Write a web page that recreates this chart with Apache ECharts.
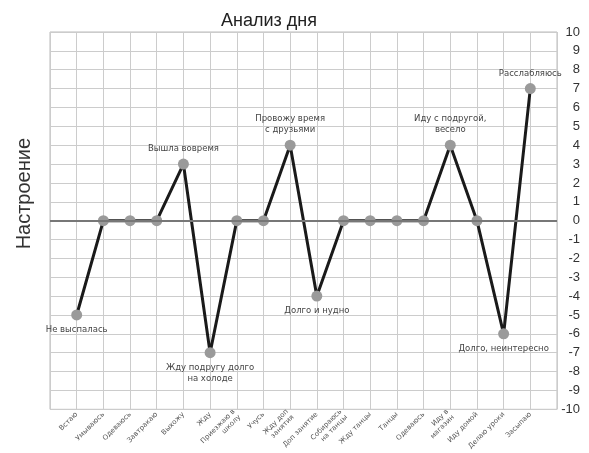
<!DOCTYPE html>
<html>
<head>
<meta charset="utf-8">
<script src="https://cdn.jsdelivr.net/npm/echarts@6/dist/echarts.min.js"></script>
<style>
  html, body { margin: 0; padding: 0; background: #fff; }
  #main { width: 589px; height: 453px; }
</style>
</head>
<body>
<div id="main"></div>
<script>
// категории (первая и последняя пустые - поля по краям)
var categories = ['', 'Встаю', 'Умываюсь', 'Одеваюсь', 'Завтракаю', 'Выхожу', 'Жду',
  'Приезжаю в\nшколу', 'Учусь', 'Жду доп\nзанятия', 'Доп занятие', 'Собираюсь\nна танцы',
  'Жду танцы', 'Танцы', 'Одеваюсь', 'Иду в\nмагазин', 'Иду домой', 'Делаю уроки', 'Засыпаю', ''];
// настроение
var mood = [null, -5, 0, 0, 0, 3, -7, 0, 0, 4, -4, 0, 0, 0, 0, 4, 0, -6, 7, null];
// подписи у точек
var notes = ['', 'Не выспалась', '', '', '', 'Вышла вовремя', 'Жду подругу долго\nна холоде',
  '', '', 'Провожу время\nс друзьями', 'Долго и нудно', '', '', '', '', 'Иду с подругой,\nвесело',
  '', 'Долго, неинтересно', 'Расслабляюсь', ''];

var font = 'Liberation Sans';

var points = mood.map(function (v, i) {
  return {
    value: v,
    label: {
      show: notes[i] !== '',
      formatter: notes[i],
      position: v < 0 ? 'bottom' : 'top'
    }
  };
});

var myChart = echarts.init(document.getElementById('main'));
var option = {
  animation: false,
  title: {
    text: 'Анализ дня',
    left: 216,
    top: 7,
    textStyle: { fontFamily: font, fontSize: 18, fontWeight: 'normal', color: '#222' }
  },
  grid: {
    left: 50,
    right: 32,
    top: 32,
    bottom: 43,
    show: true,
    borderColor: '#bbb',
    borderWidth: 1
  },
  xAxis: {
    type: 'category',
    data: categories,
    boundaryGap: false,
    axisLine: { show: false },
    axisTick: { show: false },
    axisLabel: {
      interval: 0,
      rotate: 45,
      margin: 4,
      fontFamily: 'DejaVu Sans',
      fontSize: 7,
      lineHeight: 8,
      color: '#555'
    },
    splitLine: { show: true, lineStyle: { color: '#cccccc', width: 1 } }
  },
  yAxis: [
    {
      type: 'value',
      position: 'right',
      min: -10,
      max: 10,
      interval: 1,
      axisLine: { show: false },
      axisTick: { show: false },
      axisLabel: {
        align: 'right',
        margin: 23,
        fontFamily: font,
        fontSize: 13,
        color: '#333'
      },
      splitLine: { show: true, lineStyle: { color: '#cccccc', width: 1 } }
    },
    {
      type: 'value',
      position: 'left',
      min: -10,
      max: 10,
      name: 'Настроение',
      nameLocation: 'middle',
      nameGap: 16,
      nameTextStyle: { fontFamily: font, fontSize: 20, color: '#333', padding: [0, 0, 0, 54] },
      axisLine: { show: false },
      axisTick: { show: false },
      axisLabel: { show: false },
      splitLine: { show: false }
    }
  ],
  series: [
    {
      type: 'line',
      data: points,
      symbol: 'circle',
      symbolSize: 11,
      itemStyle: { color: '#9a9a9a' },
      lineStyle: { color: '#1a1a1a', width: 3 },
      label: {
        fontFamily: 'DejaVu Sans',
        fontSize: 8.5,
        lineHeight: 11,
        color: '#444',
        distance: 4
      },
      markLine: {
        silent: true,
        symbol: 'none',
        label: { show: false },
        lineStyle: { color: '#777', width: 2, type: 'solid' },
        data: [{ yAxis: 0 }]
      },
      z: 3
    }
  ]
};
option && myChart.setOption(option);
</script>
</body>
</html>
